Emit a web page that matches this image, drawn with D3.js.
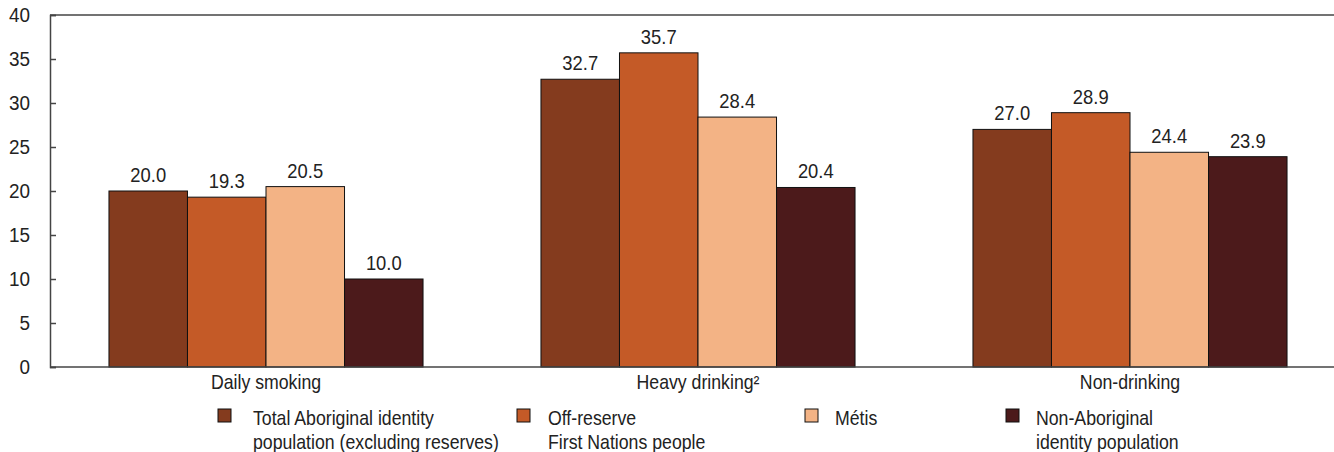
<!DOCTYPE html>
<html><head><meta charset="utf-8">
<script src="https://cdn.jsdelivr.net/npm/d3@7"></script>
<style>
body{margin:0;background:#fff;}
text{font-family:"Liberation Sans Narrow","Arial Narrow","Liberation Sans",sans-serif;fill:#222;}
</style></head>
<body><svg id="c" width="1334" height="452"></svg>
<script>
const categories = ["Daily smoking", "Heavy drinking\u00B2", "Non-drinking"];
const seriesNames = ["Total Aboriginal identity population (excluding reserves)", "Off-reserve First Nations people", "Métis", "Non-Aboriginal identity population"];
const legendLines = [["Total Aboriginal identity", "population (excluding reserves)"], ["Off-reserve", "First Nations people"], ["Métis"], ["Non-Aboriginal", "identity population"]];
const totalAboriginal = [20.0, 32.7, 27.0];
const offReserve = [19.3, 35.7, 28.9];
const metis = [20.5, 28.4, 24.4];
const nonAboriginal = [10.0, 20.4, 23.9];
const colors = ["#843B1E", "#C45A27", "#F3B385", "#4C1A1B"];
const yTicks = [0, 5, 10, 15, 20, 25, 30, 35, 40];

const series = [totalAboriginal, offReserve, metis, nonAboriginal];
const svg = d3.select("#c");
const mLeft = 50, mRight = 1346, mTop = 15, mBottom = 367;
const SX = 0.885, SXV = 0.92, SXT = 0.97;

const x0 = d3.scaleBand().domain(categories).range([mLeft, mRight]).paddingInner(0.273).paddingOuter(0.1365);
const x1 = d3.scaleBand().domain(d3.range(series.length)).range([0, x0.bandwidth()]);
const y = d3.scaleLinear().domain([0, 40]).range([mBottom, mTop]);

// top border
svg.append("line").attr("x1", mLeft).attr("x2", 1334).attr("y1", y(40)).attr("y2", y(40))
  .attr("stroke", "#444").attr("stroke-width", 1.5);

// bars
const g = svg.append("g");
categories.forEach((c, ci) => {
  series.forEach((s, si) => {
    const bx = x0(c) + x1(si);
    g.append("rect").attr("x", bx).attr("y", y(s[ci])).attr("width", x1.bandwidth())
      .attr("height", y(0) - y(s[ci])).attr("fill", colors[si]).attr("stroke", "#111").attr("stroke-width", 1);
    g.append("text").attr("transform", `translate(${bx + x1.bandwidth() / 2},${y(s[ci]) - 9}) scale(${SXV},1)`)
      .attr("text-anchor", "middle").attr("font-size", 20).text(s[ci].toFixed(1));
  });
});

// y axis
const yAxis = svg.append("g").attr("transform", `translate(${mLeft},0)`)
  .call(d3.axisRight(y).tickValues(yTicks).tickSize(6).tickFormat(d => d));
yAxis.select(".domain").attr("stroke", "#444").attr("stroke-width", 1.5);
yAxis.selectAll(".tick line").attr("stroke", "#444").attr("stroke-width", 1.5);
yAxis.selectAll(".tick text").attr("x", 0).attr("transform", `translate(-20,0) scale(${SXT},1)`)
  .attr("text-anchor", "end").attr("font-size", 19.5).attr("fill", "#222").attr("dy", "0.35em");

// x axis
const xAxis = svg.append("g").attr("transform", `translate(0,${mBottom})`)
  .call(d3.axisBottom(x0).tickSize(0).tickPadding(22));
xAxis.select(".domain").attr("d", `M${mLeft},0H1334`).attr("stroke", "#444").attr("stroke-width", 1.5);
xAxis.selectAll(".tick text").attr("font-size", 20).attr("fill", "#222").attr("dy", 0).attr("y", 0)
  .attr("transform", `translate(0,22) scale(${SX},1)`);

// legend
const legX = [218, 517, 805, 1006];
const legTX = [35, 31, 30, 30];
legendLines.forEach((lines, i) => {
  const lg = svg.append("g").attr("transform", `translate(${legX[i]},409)`);
  lg.append("rect").attr("width", 13).attr("height", 13).attr("fill", colors[i]).attr("stroke", "#111").attr("stroke-width", 1);
  lines.forEach((t, li) => {
    lg.append("text").attr("transform", `translate(${legTX[i]},${15.5 + li * 24.5}) scale(${SX},1)`)
      .attr("font-size", 20).text(t);
  });
});
</script></body></html>
